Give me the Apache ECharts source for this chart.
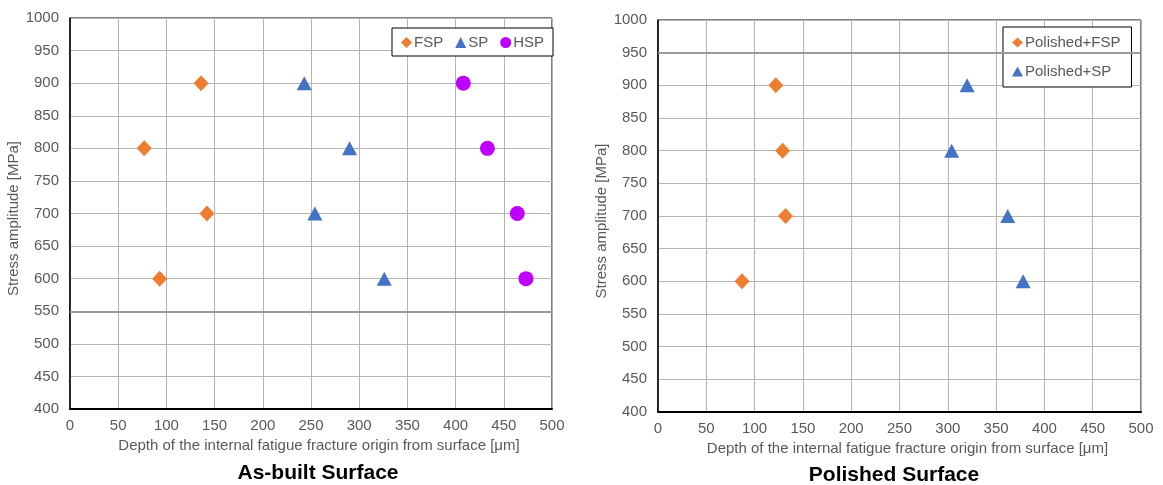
<!DOCTYPE html>
<html><head><meta charset="utf-8">
<script src="https://cdn.jsdelivr.net/npm/echarts@6/dist/echarts.min.js"></script>
<style>html,body{margin:0;padding:0;background:#fff}#c{width:1163px;height:485px}</style>
</head><body><div id="c"></div>
<script>
// Data (depth µm, stress MPa)
var asBuiltFSP = [[77, 800], [93, 600], [136, 900], [142, 700]];
var asBuiltSP  = [[243, 900], [290, 800], [254, 700], [326, 600]];
var asBuiltHSP = [[408, 900], [433, 800], [464, 700], [473, 600]];
var polFSP = [[122, 900], [129, 800], [132, 700], [87, 600]];
var polSP  = [[320, 900], [304, 800], [362, 700], [378, 600]];
var titles = ['As-built Surface', 'Polished Surface'];
var xName = 'Depth of the internal fatigue fracture origin from surface [μm]';
var yName = 'Stress amplitude [MPa]';

var FONT = '"Liberation Sans", Arial, sans-serif';
var TXT = '#595959';
var GRIDC = '#b4b4b4';

function xAxis(gi) {
  return {
    type: 'value', gridIndex: gi, min: 0, max: 500, interval: 50,
    name: xName, nameLocation: 'middle', nameGap: 25,
    nameTextStyle: {color: TXT, fontSize: 15, fontFamily: FONT, padding: [0, 0, 0, 16]},
    axisLine: {show: true, lineStyle: {color: '#000', width: 2}},
    axisTick: {show: false},
    axisLabel: {color: TXT, fontSize: 15, fontFamily: FONT, margin: 9},
    splitLine: {show: true, lineStyle: {color: GRIDC, width: 1}}
  };
}
function yAxis(gi) {
  return {
    type: 'value', gridIndex: gi, min: 400, max: 1000, interval: 50,
    name: yName, nameLocation: 'middle', nameGap: 46,
    nameTextStyle: {color: TXT, fontSize: 15, fontFamily: FONT, padding: [0, 10, 0, 0]},
    axisLine: {show: true, lineStyle: {color: '#000', width: 1.5}},
    axisTick: {show: false},
    axisLabel: {color: TXT, fontSize: 15, fontFamily: FONT, margin: 11,
                formatter: function (v) { return String(v); }},
    splitLine: {show: true, lineStyle: {color: GRIDC, width: 1}}
  };
}
function darkLine(y) {
  return {silent: true, symbol: 'none', label: {show: false},
    lineStyle: {color: '#9a9a9a', width: 2, type: 'solid', opacity: 1},
    emphasis: {disabled: true},
    data: [{yAxis: y}]};
}

var option = {
  animation: false,
  backgroundColor: '#fff',
  title: [
    {text: titles[0], left: 313, top: 458, textAlign: 'center',
     textStyle: {fontSize: 21, fontWeight: 'bold', color: '#000', fontFamily: FONT}},
    {text: titles[1], left: 889, top: 460, textAlign: 'center',
     textStyle: {fontSize: 21, fontWeight: 'bold', color: '#000', fontFamily: FONT}}
  ],
  grid: [
    {left: 70, top: 18, width: 482, height: 391, show: true, borderColor: '#000', borderWidth: 1},
    {left: 658, top: 20, width: 483, height: 392, show: true, borderColor: '#000', borderWidth: 1}
  ],
  xAxis: [xAxis(0), xAxis(1)],
  yAxis: [yAxis(0), yAxis(1)],
  legend: [
    {data: ['FSP', 'SP', 'HSP'], left: 392, top: 28, orient: 'horizontal',
     padding: [7, 9, 6, 9], itemGap: 12, itemWidth: 11, itemHeight: 11,
     borderColor: '#000', borderWidth: 1, backgroundColor: '#fff',
     textStyle: {color: TXT, fontSize: 15, fontFamily: FONT, padding: [0, 0, 0, -3]}},
    {data: ['Polished+FSP', 'Polished+SP'], left: 1003, top: 27, orient: 'vertical',
     padding: [8, 11, 8, 9], itemGap: 14, itemWidth: 11, itemHeight: 10,
     borderColor: '#000', borderWidth: 1, backgroundColor: '#fff',
     textStyle: {color: TXT, fontSize: 15, fontFamily: FONT, padding: [0, 0, 0, -3]}}
  ],
  series: [
    {name: 'FSP', type: 'scatter', xAxisIndex: 0, yAxisIndex: 0, data: asBuiltFSP,
     symbol: 'diamond', symbolSize: [15, 16], itemStyle: {color: '#ED7D31', opacity: 1},
     markLine: darkLine(550)},
    {name: 'SP', type: 'scatter', xAxisIndex: 0, yAxisIndex: 0, data: asBuiltSP,
     symbol: 'triangle', symbolSize: [15, 14], itemStyle: {color: '#4472C4', opacity: 1}},
    {name: 'HSP', type: 'scatter', xAxisIndex: 0, yAxisIndex: 0, data: asBuiltHSP,
     symbol: 'circle', symbolSize: 15, itemStyle: {color: '#BF00FF', opacity: 1}},
    {name: 'Polished+FSP', type: 'scatter', xAxisIndex: 1, yAxisIndex: 1, data: polFSP,
     symbol: 'diamond', symbolSize: [15, 16], itemStyle: {color: '#ED7D31', opacity: 1},
     markLine: darkLine(950)},
    {name: 'Polished+SP', type: 'scatter', xAxisIndex: 1, yAxisIndex: 1, data: polSP,
     symbol: 'triangle', symbolSize: [15, 14], itemStyle: {color: '#4472C4', opacity: 1}}
  ]
};
var chart = echarts.init(document.getElementById('c'), null, {renderer: 'canvas'});
chart.setOption(option);
</script></body></html>
